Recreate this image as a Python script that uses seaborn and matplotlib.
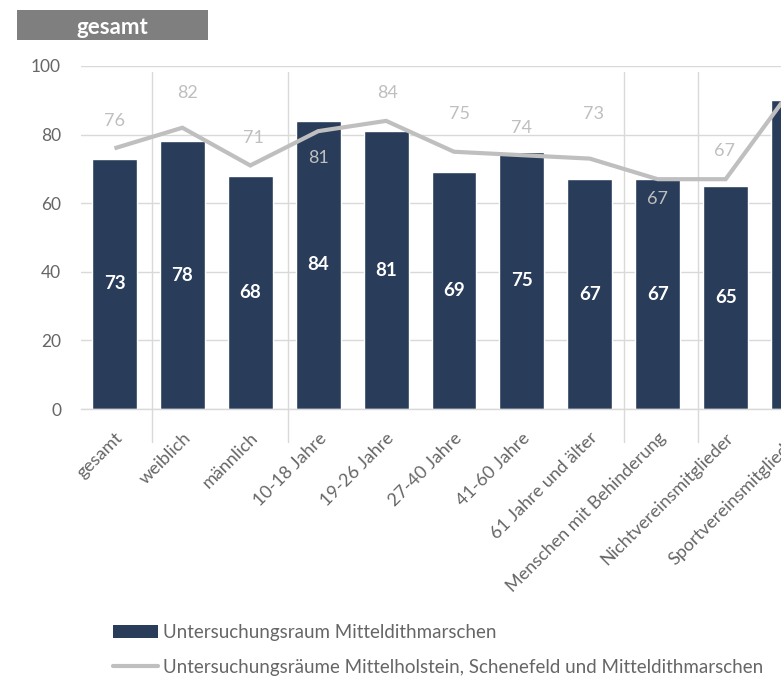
import numpy as np
import pandas as pd
import matplotlib
matplotlib.use("Agg")
import matplotlib.pyplot as plt
import matplotlib.transforms as mtransforms
from matplotlib.patches import Rectangle, Patch
from matplotlib.lines import Line2D
import seaborn as sns

# --- data -------------------------------------------------------------
categories = [
    "gesamt", "weiblich", "männlich", "10-18 Jahre", "19-26 Jahre",
    "27-40 Jahre", "41-60 Jahre", "61 Jahre und älter",
    "Menschen mit Behinderung", "Nichtvereinsmitglieder",
    "Sportvereinsmitglieder",
]
mitteldithmarschen = [73, 78, 68, 84, 81, 69, 75, 67, 67, 65, 90]
alle_raeume = [76, 82, 71, 81, 84, 75, 74, 73, 67, 67, 94]
y_ticks = [0, 20, 40, 60, 80, 100]
panel_title = "gesamt"
series_names = [
    "Untersuchungsraum Mitteldithmarschen",
    "Untersuchungsräume Mittelholstein, Schenefeld und Mitteldithmarschen",
]

# label placement for the line values (dx, dy in points)
line_label_offsets = [
    (0, 19.5), (4, 25), (2, 20), (0, -19), (1, 20), (4, 27),
    (0, 19.5), (3, 32), (0, -14), (-1, 20), (0, 20),
]

# --- style ------------------------------------------------------------
BAR = "#293c5a"
LINE = "#bfbfbf"
GRID = "#d9d9d9"
TICK = "#666666"

sns.set_theme(style="white")
plt.rcParams["font.family"] = ["Lato", "DejaVu Sans"]

fig = plt.figure(figsize=(7.81, 6.80), dpi=100)
ax = fig.add_axes([80.5 / 781, (680 - 409) / 680, 747 / 781, 343 / 680])

df = pd.DataFrame({"Kategorie": categories,
                   "Wert": mitteldithmarschen,
                   "Vergleich": alle_raeume})
df["pos"] = np.arange(len(df))

sns.barplot(data=df, x="Kategorie", y="Wert", color=BAR, saturation=1,
            width=0.66, ax=ax, zorder=3)
sns.lineplot(data=df, x="pos", y="Vergleich", color=LINE, linewidth=3,
             sort=False, ax=ax, zorder=4, solid_capstyle="butt",
             solid_joinstyle="miter")

ax.set_xlim(-0.5, len(categories) - 0.5)
ax.set_ylim(0, 100)
ax.set_yticks(y_ticks)
ax.set_xlabel("")
ax.set_ylabel("")

# horizontal grid
ax.yaxis.grid(True, color=GRID, linewidth=1, zorder=0)
ax.xaxis.grid(False)
for side in ["left", "right", "top"]:
    ax.spines[side].set_visible(False)
ax.spines["bottom"].set_color(GRID)
ax.spines["bottom"].set_linewidth(1)
ax.spines["bottom"].set_zorder(5)

# group separators
trans = mtransforms.blended_transform_factory(ax.transData, ax.transAxes)
for xs in [0.55, 2.55, 7.5, 8.6]:
    ax.plot([xs, xs], [-0.097, 0.982], transform=trans, color=GRID,
            linewidth=1, clip_on=False, zorder=1)

ax.tick_params(axis="y", length=0, pad=14, labelsize=12.5, labelcolor=TICK)
ax.tick_params(axis="x", length=0, pad=19, labelsize=13, labelcolor=TICK)
ax.set_xticks(range(len(categories)))
ax.set_xticklabels(categories, rotation=45, ha="right",
                   rotation_mode="anchor", va="center")
shift = mtransforms.ScaledTranslation(4 / 72, 0, fig.dpi_scale_trans)
for lbl in ax.get_xticklabels():
    lbl.set_transform(lbl.get_transform() + shift)

# value labels inside the bars
for i, v in enumerate(mitteldithmarschen):
    ax.text(i, v / 2, f"{v}", ha="center", va="center", color="white",
            fontsize=13.5, fontweight="bold", zorder=6)

# value labels of the comparison line
for i, (v, (dx, dy)) in enumerate(zip(alle_raeume, line_label_offsets)):
    ax.annotate(f"{v}", xy=(i, v), xytext=(dx, dy),
                textcoords="offset points", ha="center", va="center",
                color=LINE, fontsize=13, zorder=6, annotation_clip=False)

# panel title box
fig.patches.append(Rectangle((17 / 781, 1 - 40 / 680), 191 / 781, 30 / 680,
                             transform=fig.transFigure, facecolor="#7f7f7f",
                             edgecolor="none"))
fig.text(112 / 781, 1 - 28 / 680, panel_title, ha="center", va="center",
         color="white", fontsize=16, fontweight="bold")

# legend
handles = [Patch(facecolor=BAR, edgecolor="none"),
           Line2D([0], [0], color=LINE, linewidth=3)]
fig.legend(handles, series_names, loc="upper left",
           bbox_to_anchor=(113 / 781, 1 - 624 / 680), frameon=False,
           borderpad=0, borderaxespad=0, handlelength=2.4,
           handleheight=0.7, handletextpad=0.28, labelspacing=0.95,
           fontsize=13.5, labelcolor=TICK)

fig.savefig("out.png", dpi=100)
